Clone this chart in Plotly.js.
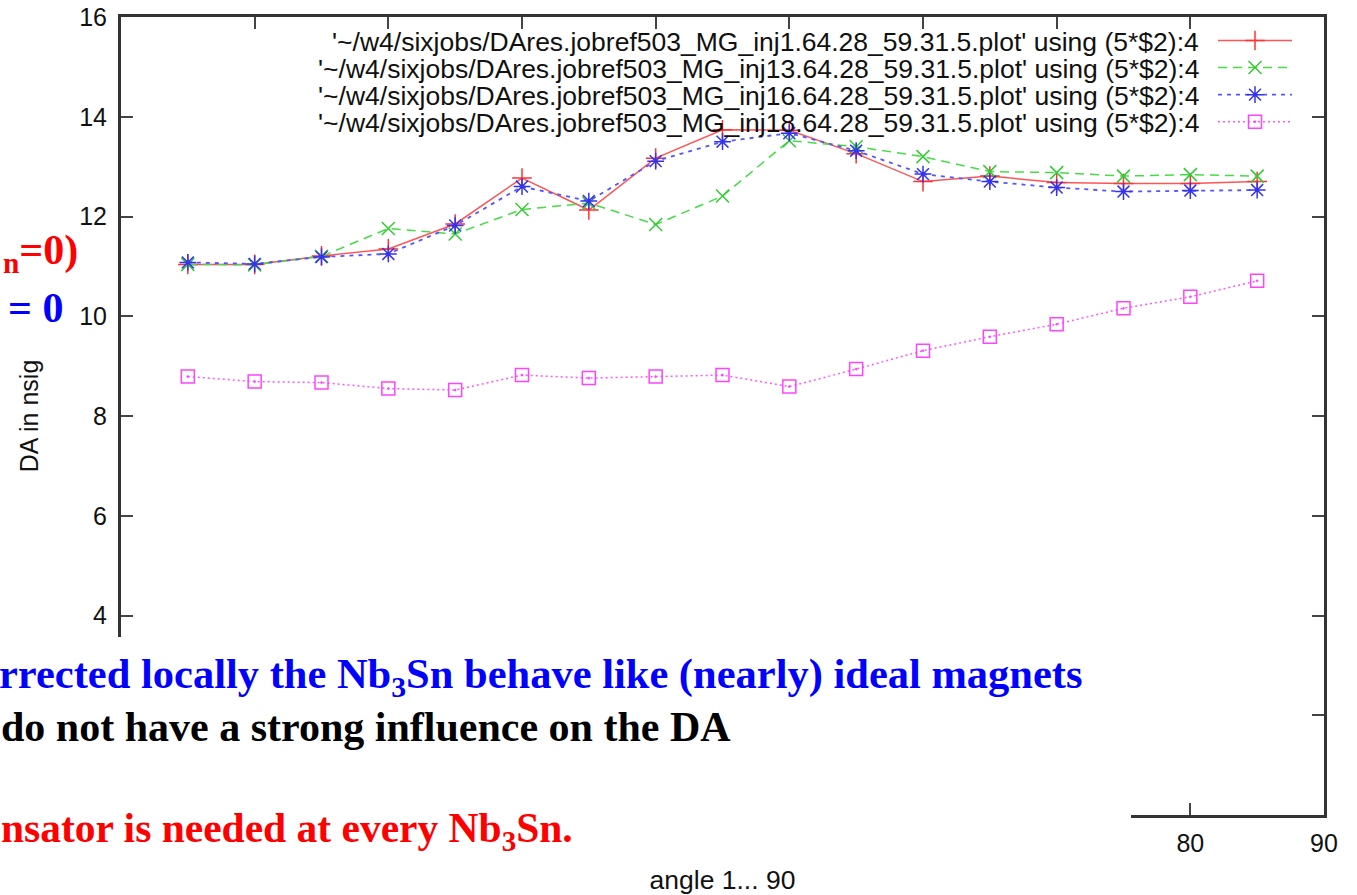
<!DOCTYPE html>
<html><head><meta charset="utf-8">
<script src="https://cdn.plot.ly/plotly-3.0.1.min.js"></script>
<style>html,body{margin:0;padding:0;background:#fff;overflow:hidden}#chart{width:1357px;height:895px}</style>
</head><body><div id="chart"></div>
<script>
// ---- data ----
const angles = [5,10,15,20,25,30,35,40,45,50,55,60,65,70,75,80,85];
const inj1  = [11.04,11.04,11.21,11.35,11.85,12.77,12.13,13.17,13.74,13.73,13.26,12.70,12.81,12.68,12.66,12.66,12.70];
const inj13 = [11.04,11.03,11.20,11.76,11.65,12.14,12.27,11.84,12.41,13.52,13.40,13.20,12.90,12.88,12.81,12.84,12.81];
const inj16 = [11.08,11.05,11.19,11.25,11.82,12.60,12.31,13.11,13.50,13.67,13.32,12.85,12.70,12.58,12.50,12.52,12.53];
const inj18 = [8.79,8.69,8.67,8.55,8.52,8.82,8.76,8.79,8.82,8.59,8.94,9.31,9.59,9.84,10.16,10.39,10.71];
const legendLabels = [
  "'~/w4/sixjobs/DAres.jobref503_MG_inj1.64.28_59.31.5.plot' using (5*$2):4",
  "'~/w4/sixjobs/DAres.jobref503_MG_inj13.64.28_59.31.5.plot' using (5*$2):4",
  "'~/w4/sixjobs/DAres.jobref503_MG_inj16.64.28_59.31.5.plot' using (5*$2):4",
  "'~/w4/sixjobs/DAres.jobref503_MG_inj18.64.28_59.31.5.plot' using (5*$2):4"
];
// tick labels: the lower-left part of the frame is hidden by the slide text box
const xTickVals = [0,10,20,30,40,50,60,70,80,90];
const xTickText = ['','','','','','','','','80','90'];
const yTickVals = [0,2,4,6,8,10,12,14,16];
const yTickText = ['','','4','6','8','10','12','14','16'];
const xTitle = 'angle 1... 90';
const yTitle = 'DA in nsig';

// ---- geometry helpers (page pixels -> paper) ----
const W = 1357, H = 895, L = 121, R = 33, T = 17, B = 80;
const pw = W - L - R, ph = H - T - B;
const px = x => (x - L) / pw;
const py = y => (H - B - y) / ph;

const sans = 'Liberation Sans, Arial, Helvetica, sans-serif';
const serif = 'Liberation Serif, Times New Roman, serif';

const traces = [
  {x: angles, y: inj1, mode: 'lines+markers', name: '',
   line: {color: '#ff5555', width: 1.5, dash: 'solid'},
   marker: {symbol: 'cross-thin-open', size: 14, color: '#ff3333', line: {color: '#ff3333', width: 1.5}}},
  {x: angles, y: inj13, mode: 'lines+markers', name: '',
   line: {color: '#44dd44', width: 1.5, dash: '9px,6px'},
   marker: {symbol: 'x-thin-open', size: 13, color: '#33cc33', line: {color: '#33cc33', width: 1.5}}},
  {x: angles, y: inj16, mode: 'lines+markers', name: '',
   line: {color: '#5555ff', width: 1.8, dash: '4px,5px'},
   marker: {symbol: 'asterisk-open', size: 14, color: '#3333ee', line: {color: '#3333ee', width: 1.5}}},
  {x: angles, y: inj18, mode: 'lines+markers', name: '',
   line: {color: '#ff55ff', width: 1.5, dash: '2px,3px'},
   marker: {symbol: 'square-open-dot', size: 13, color: '#ff44ff', line: {color: '#ff44ff', width: 1.5}}}
];

const axisCommon = {
  showline: true, linewidth: 3, linecolor: '#333', mirror: 'ticks',
  ticks: 'inside', ticklen: 12, tickwidth: 2, tickcolor: '#444',
  showgrid: false, zeroline: false, tickmode: 'array',
  tickfont: {family: sans, size: 25, color: '#111'}
};

const annotations = [];
legendLabels.forEach((t, i) => {
  annotations.push({xref: 'paper', yref: 'paper', x: px(1201), y: py(42 + i * 27),
    xanchor: 'right', yanchor: 'middle', showarrow: false, text: t,
    font: {family: sans, size: 26.5, color: '#111'}});
});
const slide = [
  {text: '<sub>n</sub>=0)', x: 79, y: 253, xanchor: 'right', color: '#ff0000'},
  {text: '= 0', x: 64, y: 308, xanchor: 'right', color: '#0000ff'},
  {text: 'rrected locally the Nb<sub>3</sub>Sn behave like (nearly) ideal magnets', x: -2, y: 676, xanchor: 'left', color: '#0000ff', size: 42.5},
  {text: 'do not have a strong influence on the DA', x: 0, y: 727, xanchor: 'left', color: '#000000'},
  {text: 'nsator is needed at every Nb<sub>3</sub>Sn.', x: 0, y: 831, xanchor: 'left', color: '#ff0000', size: 41.5}
];
slide.forEach(s => annotations.push({xref: 'paper', yref: 'paper', x: px(s.x), y: py(s.y),
  xanchor: s.xanchor, yanchor: 'middle', showarrow: false, text: s.text,
  borderpad: 0,
  font: {family: serif, size: s.size || 42, color: s.color, weight: 'bold'}}));

const layout = {
  width: W, height: H,
  margin: {l: L, r: R, t: T, b: B, pad: 0, autoexpand: false},
  paper_bgcolor: '#fff', plot_bgcolor: '#fff',
  showlegend: true,
  legend: {x: px(1213), xanchor: 'left', y: py(22), yanchor: 'top',
    bgcolor: 'rgba(0,0,0,0)', borderwidth: 0, itemwidth: 74,
    font: {family: sans, size: 18.5, color: 'rgba(0,0,0,0)'}},
  xaxis: Object.assign({}, axisCommon, {range: [0, 90], tickvals: xTickVals, ticktext: xTickText,
    ticklabelstandoff: 4,
    title: {text: xTitle, font: {family: sans, size: 26.5, color: '#111'}, standoff: 22}}),
  yaxis: Object.assign({}, axisCommon, {range: [0, 16], tickvals: yTickVals, ticktext: yTickText,
    ticklabelstandoff: 6,
    title: {text: yTitle, font: {family: sans, size: 25, color: '#111'}, standoff: 34}}),
  shapes: [{type: 'rect', xref: 'paper', yref: 'paper', layer: 'above',
    x0: px(-5), x1: px(1131), y0: py(900), y1: py(637),
    fillcolor: '#ffffff', line: {width: 0}}],
  annotations: annotations
};

Plotly.newPlot('chart', traces, layout, {displayModeBar: false, staticPlot: true});
</script>
</body></html>
